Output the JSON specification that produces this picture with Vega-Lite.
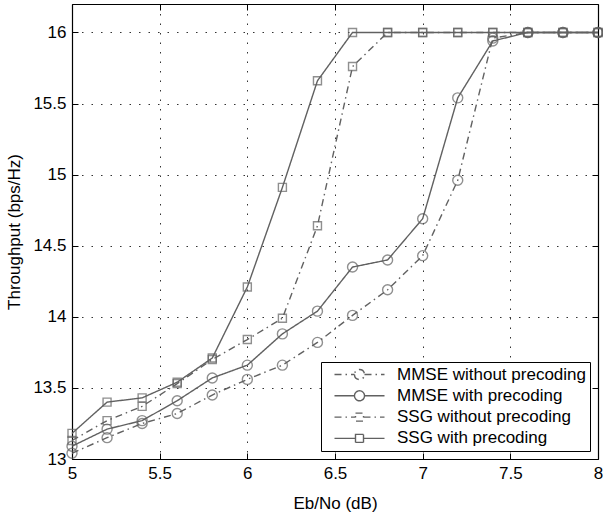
{
  "$schema": "https://vega.github.io/schema/vega-lite/v6.json",
  "width": 526,
  "height": 455,
  "autosize": "none",
  "padding": {"left": 72, "top": 4, "right": 5, "bottom": 54},
  "background": "white",
  "config": {
    "font": "Liberation Sans",
    "view": {"stroke": null}
  },
  "data": {
    "values": [
      {"series": "MMSE without precoding", "x": 5.0, "y": 13.04},
      {"series": "MMSE without precoding", "x": 5.2, "y": 13.15},
      {"series": "MMSE without precoding", "x": 5.4, "y": 13.25},
      {"series": "MMSE without precoding", "x": 5.6, "y": 13.32},
      {"series": "MMSE without precoding", "x": 5.8, "y": 13.45},
      {"series": "MMSE without precoding", "x": 6.0, "y": 13.56},
      {"series": "MMSE without precoding", "x": 6.2, "y": 13.66},
      {"series": "MMSE without precoding", "x": 6.4, "y": 13.82},
      {"series": "MMSE without precoding", "x": 6.6, "y": 14.01},
      {"series": "MMSE without precoding", "x": 6.8, "y": 14.19},
      {"series": "MMSE without precoding", "x": 7.0, "y": 14.43},
      {"series": "MMSE without precoding", "x": 7.2, "y": 14.96},
      {"series": "MMSE without precoding", "x": 7.4, "y": 15.96},
      {"series": "MMSE without precoding", "x": 7.6, "y": 16.0},
      {"series": "MMSE without precoding", "x": 7.8, "y": 16.0},
      {"series": "MMSE without precoding", "x": 8.0, "y": 16.0},
      {"series": "MMSE with precoding", "x": 5.0, "y": 13.09},
      {"series": "MMSE with precoding", "x": 5.2, "y": 13.21},
      {"series": "MMSE with precoding", "x": 5.4, "y": 13.27},
      {"series": "MMSE with precoding", "x": 5.6, "y": 13.41},
      {"series": "MMSE with precoding", "x": 5.8, "y": 13.57},
      {"series": "MMSE with precoding", "x": 6.0, "y": 13.66},
      {"series": "MMSE with precoding", "x": 6.2, "y": 13.88},
      {"series": "MMSE with precoding", "x": 6.4, "y": 14.04},
      {"series": "MMSE with precoding", "x": 6.6, "y": 14.35},
      {"series": "MMSE with precoding", "x": 6.8, "y": 14.4},
      {"series": "MMSE with precoding", "x": 7.0, "y": 14.69},
      {"series": "MMSE with precoding", "x": 7.2, "y": 15.54},
      {"series": "MMSE with precoding", "x": 7.4, "y": 15.94},
      {"series": "MMSE with precoding", "x": 7.6, "y": 16.0},
      {"series": "MMSE with precoding", "x": 7.8, "y": 16.0},
      {"series": "MMSE with precoding", "x": 8.0, "y": 16.0},
      {"series": "SSG without precoding", "x": 5.0, "y": 13.13},
      {"series": "SSG without precoding", "x": 5.2, "y": 13.27},
      {"series": "SSG without precoding", "x": 5.4, "y": 13.37},
      {"series": "SSG without precoding", "x": 5.6, "y": 13.53},
      {"series": "SSG without precoding", "x": 5.8, "y": 13.7},
      {"series": "SSG without precoding", "x": 6.0, "y": 13.84},
      {"series": "SSG without precoding", "x": 6.2, "y": 13.99},
      {"series": "SSG without precoding", "x": 6.4, "y": 14.64},
      {"series": "SSG without precoding", "x": 6.6, "y": 15.76},
      {"series": "SSG without precoding", "x": 6.8, "y": 16.0},
      {"series": "SSG without precoding", "x": 7.0, "y": 16.0},
      {"series": "SSG without precoding", "x": 7.2, "y": 16.0},
      {"series": "SSG without precoding", "x": 7.4, "y": 16.0},
      {"series": "SSG without precoding", "x": 7.6, "y": 16.0},
      {"series": "SSG without precoding", "x": 7.8, "y": 16.0},
      {"series": "SSG without precoding", "x": 8.0, "y": 16.0},
      {"series": "SSG with precoding", "x": 5.0, "y": 13.18},
      {"series": "SSG with precoding", "x": 5.2, "y": 13.4},
      {"series": "SSG with precoding", "x": 5.4, "y": 13.43},
      {"series": "SSG with precoding", "x": 5.6, "y": 13.54},
      {"series": "SSG with precoding", "x": 5.8, "y": 13.71},
      {"series": "SSG with precoding", "x": 6.0, "y": 14.21},
      {"series": "SSG with precoding", "x": 6.2, "y": 14.91},
      {"series": "SSG with precoding", "x": 6.4, "y": 15.66},
      {"series": "SSG with precoding", "x": 6.6, "y": 16.0},
      {"series": "SSG with precoding", "x": 6.8, "y": 16.0},
      {"series": "SSG with precoding", "x": 7.0, "y": 16.0},
      {"series": "SSG with precoding", "x": 7.2, "y": 16.0},
      {"series": "SSG with precoding", "x": 7.4, "y": 16.0},
      {"series": "SSG with precoding", "x": 7.6, "y": 16.0},
      {"series": "SSG with precoding", "x": 7.8, "y": 16.0},
      {"series": "SSG with precoding", "x": 8.0, "y": 16.0}
    ]
  },
  "resolve": {"axis": {"x": "independent", "y": "independent"}},
  "layer": [
    {
      "mark": {"type": "line", "color": "#616161", "strokeWidth": 1.4},
      "encoding": {
        "x": {
          "field": "x", "type": "quantitative",
          "scale": {"domain": [5, 8], "nice": false, "zero": false},
          "axis": {
            "values": [5, 5.5, 6, 6.5, 7, 7.5, 8], "format": "~g",
            "grid": true, "gridDash": [1.5, 8], "gridColor": "#333", "gridOpacity": 1, "gridWidth": 1,
            "tickSize": -6, "tickColor": "black", "labelPadding": 12,
            "domainColor": "black", "domainWidth": 1.2,
            "labelFontSize": 17, "labelColor": "black", "labelFlush": false,
            "title": "Eb/No (dB)", "titleFontSize": 17, "titleFontWeight": "normal", "titleColor": "black", "titlePadding": 14
          }
        },
        "y": {
          "field": "y", "type": "quantitative",
          "scale": {"domain": [13, 16.2], "nice": false, "zero": false},
          "axis": {
            "values": [13, 13.5, 14, 14.5, 15, 15.5, 16], "format": "~g",
            "grid": true, "gridDash": [1.5, 8], "gridColor": "#333", "gridOpacity": 1, "gridWidth": 1,
            "tickSize": -6, "tickColor": "black", "labelPadding": 12,
            "domainColor": "black", "domainWidth": 1.2,
            "labelFontSize": 17, "labelColor": "black", "labelFlush": false,
            "title": "Throughput (bps/Hz)", "titleFontSize": 17, "titleFontWeight": "normal", "titleColor": "black", "titlePadding": 9
          }
        },
        "strokeDash": {
          "field": "series", "type": "nominal",
          "scale": {
            "domain": ["MMSE without precoding", "MMSE with precoding", "SSG without precoding", "SSG with precoding"],
            "range": [[7, 4, 1.5, 4], [1, 0], [7, 4, 1.5, 4], [1, 0]]
          },
          "legend": {
            "title": null,
            "orient": "bottom-right",
            "offset": 8,
            "strokeColor": "black",
            "fillColor": "white",
            "padding": 4,
            "labelFontSize": 17,
            "labelColor": "black",
            "labelLimit": 400,
            "labelOffset": 55,
            "rowPadding": 3.3,
            "symbolSize": 100,
            "symbolOpacity": 1,
            "symbolStrokeWidth": 1.4,
            "symbolStrokeColor": "#616161",
            "symbolFillColor": "transparent"
          }
        }
      }
    },
    {
      "transform": [{"filter": "indexof(datum.series, 'MMSE') >= 0"}],
      "mark": {"type": "point", "filled": false, "shape": "circle", "color": "#616161", "strokeWidth": 1.4, "size": 100},
      "encoding": {
        "x": {
          "field": "x", "type": "quantitative",
          "axis": {"orient": "top", "values": [5, 5.5, 6, 6.5, 7, 7.5, 8], "labels": false, "grid": false, "tickSize": -6, "tickColor": "black", "domainColor": "black", "domainWidth": 1.2, "title": null}
        },
        "y": {
          "field": "y", "type": "quantitative",
          "axis": {"orient": "right", "values": [13, 13.5, 14, 14.5, 15, 15.5, 16], "labels": false, "grid": false, "tickSize": -6, "tickColor": "black", "domainColor": "black", "domainWidth": 1.2, "title": null}
        }
      }
    },
    {
      "transform": [{"filter": "indexof(datum.series, 'SSG') >= 0"}],
      "mark": {"type": "point", "filled": false, "shape": "square", "color": "#616161", "strokeWidth": 1.4, "size": 64},
      "encoding": {
        "x": {"field": "x", "type": "quantitative", "axis": null},
        "y": {"field": "y", "type": "quantitative", "axis": null}
      }
    },
    {
      "mark": {"type": "point", "filled": false, "color": "#616161", "strokeWidth": 1.4, "size": 0},
      "encoding": {
        "x": {"field": "x", "type": "quantitative", "axis": null},
        "y": {"field": "y", "type": "quantitative", "axis": null},
        "shape": {
          "field": "series", "type": "nominal",
          "scale": {
            "domain": ["MMSE without precoding", "MMSE with precoding", "SSG without precoding", "SSG with precoding"],
            "range": [
              "M0.2,0H4.2M6.2,0H10.2M4.2,0A1,1 0 1,0 6.2,0A1,1 0 1,0 4.2,0Z",
              "M0.2,0H4.2M6.2,0H10.2M4.2,0A1,1 0 1,0 6.2,0A1,1 0 1,0 4.2,0Z",
              "M0.2,0H4.4M6,0H10.2M4.4,-0.8H6V0.8H4.4Z",
              "M0.2,0H4.4M6,0H10.2M4.4,-0.8H6V0.8H4.4Z"
            ]
          },
          "legend": null
        }
      }
    }
  ]
}
